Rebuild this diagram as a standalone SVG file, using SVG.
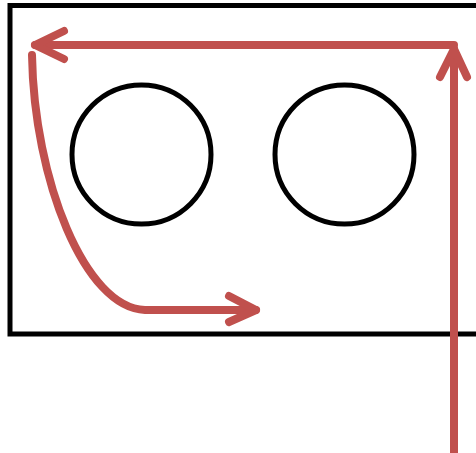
<svg xmlns="http://www.w3.org/2000/svg" width="476" height="453" viewBox="0 0 476 453">
<style>
.box{fill:none;stroke:#000;stroke-width:5}
.c{fill:#fff;stroke:#000;stroke-width:5}
.a{fill:none;stroke:#C0504D;stroke-width:8;stroke-linecap:round;stroke-linejoin:round}
</style>
<rect width="476" height="453" fill="#fff"/>
<g id="frame"><path class="box" d="M482,5.5 L10,5.5 L10,334 L482,334"/></g>
<g id="circle1"><circle class="c" cx="141.5" cy="154.5" r="69.5"/></g>
<g id="circle2"><circle class="c" cx="344.5" cy="154.5" r="69.5"/></g>
<g id="connectors">
<path class="a" d="M454,453 L454,49"/>
<path class="a" d="M440,77 L454,49 L467,77"/>
<path class="a" d="M454,45 L35,45"/>
<path class="a" d="M64,31 L35,45 L64,59"/>
<path class="a" d="M32,55 C34,180 85,308 145,310 L256,310"/>
<path class="a" d="M229,296 L256,310 L229,322"/>
</g>
</svg>
